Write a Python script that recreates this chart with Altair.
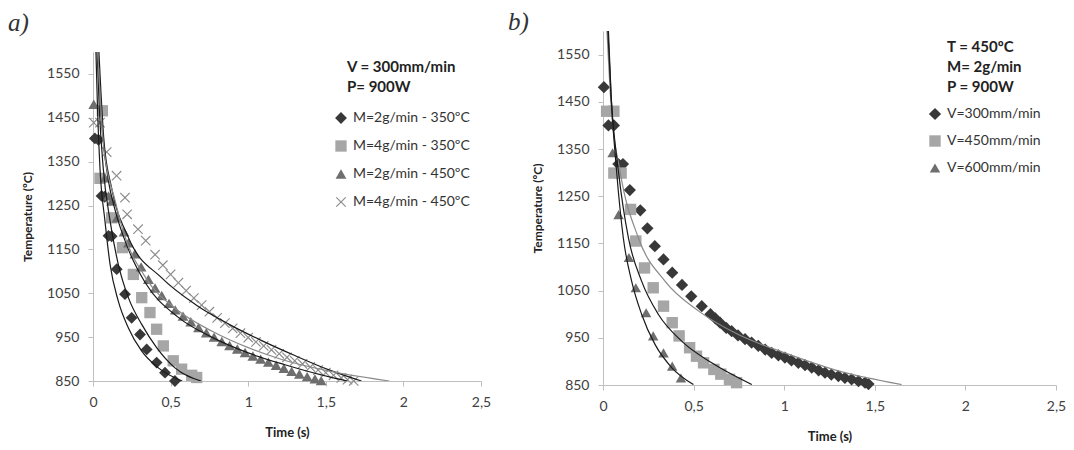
import altair as alt
import pandas as pd

FONT = "Lato"

# ---------------- panel a) ----------------
A_NAMES = ["M=2g/min - 350ºC", "M=4g/min - 350ºC", "M=2g/min - 450ºC", "M=4g/min - 450ºC"]

A_DIAMOND_T = [0.012, 0.035, 0.055, 0.075, 0.10, 0.12, 0.153, 0.206, 0.249, 0.303, 0.346, 0.41, 0.464, 0.528]
A_DIAMOND_Y = [1403, 1400, 1272, 1270, 1181, 1180, 1105, 1048, 994, 956, 922, 892, 869, 850]

A_SQUARE_T = [0.06, 0.045, 0.12, 0.19, 0.26, 0.314, 0.367, 0.41, 0.453, 0.517, 0.571, 0.636, 0.668]
A_SQUARE_Y = [1466, 1312, 1222, 1154, 1093, 1040, 1006, 968, 930, 896, 877, 863, 858]

A_TRI_T = [0.005, 0.077, 0.10, 0.12, 0.155, 0.20, 0.228, 0.27, 0.31, 0.357, 0.40, 0.443, 0.49, 0.53,
           0.58, 0.63, 0.68, 0.73, 0.78, 0.83, 0.88, 0.93, 0.98, 1.03, 1.08, 1.13, 1.18, 1.23,
           1.28, 1.33, 1.38, 1.43, 1.47]
A_TRI_Y = [1481, 1313, 1272, 1260, 1222, 1190, 1165, 1140, 1110, 1082, 1062, 1045, 1027, 1012,
           998, 985, 972, 960, 950, 940, 931, 923, 915, 907, 900, 893, 886, 879,
           872, 866, 860, 855, 851]

A_X_T = [0.005, 0.045, 0.088, 0.152, 0.206, 0.22, 0.29, 0.34, 0.40, 0.45, 0.50, 0.55, 0.60, 0.65,
         0.70, 0.75, 0.80, 0.85, 0.90, 0.95, 1.00, 1.05, 1.10, 1.15, 1.20, 1.25, 1.30, 1.35,
         1.40, 1.45, 1.50, 1.55, 1.60, 1.64, 1.68]
A_X_Y = [1439, 1439, 1372, 1318, 1268, 1230, 1196, 1170, 1138, 1114, 1093, 1074, 1056, 1039,
         1023, 1008, 994, 982, 970, 959, 949, 939, 930, 921, 912, 904, 896, 889,
         882, 875, 869, 863, 857, 853, 850]

# trend curves
A_FIT_NAMES = ["fit1", "fit2", "fit3", "fit4", "fit5"]
A_FIT_T = [
    [0.019, 0.03, 0.045, 0.077, 0.11, 0.163, 0.228, 0.314, 0.421, 0.575],
    [0.027, 0.04, 0.066, 0.11, 0.163, 0.228, 0.314, 0.41, 0.528, 0.696],
    [0.03, 0.06, 0.10, 0.142, 0.228, 0.335, 0.55, 0.765, 1.0, 1.237, 1.47, 1.64],
    [0.038, 0.07, 0.12, 0.228, 0.443, 0.657, 0.883, 1.087, 1.30, 1.516, 1.73],
    [0.03, 0.07, 0.142, 0.20, 0.335, 0.55, 0.765, 1.0, 1.216, 1.516, 1.91],
]
A_FIT_Y = [
    [1600, 1460, 1335, 1215, 1116, 1032, 971, 918, 880, 850],
    [1600, 1475, 1335, 1215, 1116, 1040, 979, 926, 880, 850],
    [1600, 1420, 1305, 1240, 1150, 1075, 995, 950, 914, 887, 864, 850],
    [1600, 1400, 1290, 1177, 1085, 1025, 978, 942, 908, 876, 850],
    [1600, 1380, 1262, 1185, 1088, 1010, 964, 926, 899, 873, 850],
]
A_FIT_COLORS = ["#1a1a1a", "#1a1a1a", "#1a1a1a", "#1a1a1a", "#8a8a8a"]

A_HEADER = ["V = 300mm/min", "P= 900W"]

# ---------------- panel b) ----------------
B_NAMES = ["V=300mm/min", "V=450mm/min", "V=600mm/min"]

B_DIAMOND_T = [0.005, 0.03, 0.06, 0.085, 0.11, 0.148, 0.206, 0.245, 0.286, 0.334, 0.382, 0.436, 0.487,
               0.545, 0.593, 0.62, 0.646, 0.68, 0.71, 0.745, 0.784, 0.82, 0.857, 0.895, 0.931,
               0.968, 1.004, 1.04, 1.078, 1.115, 1.152, 1.19, 1.225, 1.26, 1.299, 1.335, 1.372,
               1.41, 1.446, 1.465]
B_DIAMOND_Y = [1481, 1400, 1400, 1318, 1318, 1263, 1220, 1182, 1144, 1116, 1088, 1062, 1038,
               1017, 1000, 991, 982, 971, 964, 955, 947, 940, 933, 925, 918,
               913, 908, 902, 897, 892, 887, 881, 876, 872, 869, 865, 862,
               858, 855, 852]

B_SQUARE_T = [0.02, 0.06, 0.06, 0.10, 0.152, 0.181, 0.229, 0.277, 0.334, 0.382, 0.42, 0.478, 0.516,
              0.555, 0.612, 0.65, 0.698, 0.737]
B_SQUARE_Y = [1430, 1430, 1299, 1299, 1222, 1155, 1098, 1056, 1017, 982, 954, 929, 911,
              897, 883, 873, 862, 855]

B_TRI_T = [0.053, 0.086, 0.143, 0.181, 0.238, 0.277, 0.334, 0.382, 0.43]
B_TRI_Y = [1342, 1211, 1120, 1056, 1003, 954, 918, 890, 865]

B_FIT_NAMES = ["fit1", "fit2", "fit3"]
B_FIT_T = [
    [0.022, 0.045, 0.094, 0.195, 0.342, 0.526, 0.747, 1.004, 1.299, 1.648],
    [0.027, 0.045, 0.085, 0.14, 0.213, 0.305, 0.434, 0.6, 0.821],
    [0.03, 0.045, 0.075, 0.112, 0.158, 0.213, 0.287, 0.379, 0.499],
]
B_FIT_Y = [
    [1600, 1440, 1303, 1162, 1070, 1007, 957, 918, 880, 851],
    [1600, 1460, 1303, 1162, 1070, 1000, 943, 897, 851],
    [1600, 1462, 1303, 1162, 1070, 1000, 936, 887, 851],
]
B_FIT_COLORS = ["#8a8a8a", "#1a1a1a", "#1a1a1a"]

B_HEADER = ["T = 450ºC", "M= 2g/min", "P = 900W"]

X_TICKS = [0, 0.5, 1, 1.5, 2, 2.5]
Y_TICKS = [850, 950, 1050, 1150, 1250, 1350, 1450, 1550]

X_SHAPE = ("M-1,-0.84L-0.84,-1L0,-0.16L0.84,-1L1,-0.84L0.16,0L1,0.84L0.84,1L0,0.16"
           "L-0.84,1L-1,0.84L-0.16,0Z")


def make_df(names, ts, ys):
    rows = []
    for i, (n, tt, yy) in enumerate(zip(names, ts, ys)):
        for j, (a, b) in enumerate(zip(tt, yy)):
            rows.append({"series": n, "t": a, "T": b, "k": i * 1000 + j})
    return pd.DataFrame(rows)


def x_axis():
    return alt.Axis(values=X_TICKS, labelExpr="replace(format(datum.value, '~g'), '.', ',')",
                    title="Time (s)", grid=False, domainColor="#bfbfbf", tickColor="#bfbfbf",
                    tickSize=5, labelFont=FONT, labelFontSize=14, labelColor="#404040",
                    labelPadding=9, labelFlush=False, labelOverlap=False,
                    titleFont=FONT, titleFontSize=13, titleFontWeight="bold", titleColor="#222",
                    titlePadding=17)


def y_axis():
    return alt.Axis(values=Y_TICKS, format="d", title="Temperature (ºC)", grid=False,
                    domainColor="#bfbfbf", tickColor="#bfbfbf", tickSize=5, labelFont=FONT,
                    labelFontSize=14, labelColor="#404040", labelPadding=9, labelOverlap=False,
                    titleFont=FONT, titleFontSize=12, titleFontWeight="bold", titleColor="#222",
                    titlePadding=12)


def panel(names, ts, ys, colors, shapes, sizes, fit_names, fit_t, fit_y, fit_colors,
          header, hx, hy, lx, ly, row_pad, w, h):
    df = make_df(names, ts, ys)
    fdf = make_df(fit_names, fit_t, fit_y)
    xs = alt.Scale(domain=[0, 2.5], nice=False, zero=False)
    ys_ = alt.Scale(domain=[850, 1600], nice=False, zero=False)
    leg = alt.Legend(title=None, orient="none", legendX=lx, legendY=ly, padding=0,
                     labelFont=FONT, labelFontSize=14, labelColor="#333", symbolSize=70,
                     rowPadding=row_pad, labelOffset=5, symbolStrokeWidth=0)
    pts = alt.Chart(df).mark_point(filled=True, opacity=1).encode(
        x=alt.X("t:Q", scale=xs, axis=x_axis()),
        y=alt.Y("T:Q", scale=ys_, axis=y_axis()),
        color=alt.Color("series:N", scale=alt.Scale(domain=names, range=colors), legend=leg),
        shape=alt.Shape("series:N", scale=alt.Scale(domain=names, range=shapes), legend=leg),
        size=alt.Size("series:N", scale=alt.Scale(domain=names, range=sizes), legend=None),
    )
    fits = alt.Chart(fdf).mark_line(clip=True, strokeWidth=1.2, interpolate="monotone").encode(
        x=alt.X("t:Q", scale=xs, axis=x_axis()),
        y=alt.Y("T:Q", scale=ys_, axis=y_axis()),
        stroke=alt.Stroke("series:N", scale=alt.Scale(domain=fit_names, range=fit_colors), legend=None),
        order=alt.Order("k:Q"),
    )
    hdr = alt.Chart(pd.DataFrame({"k": [0]})).mark_text(
        align="left", baseline="top", font=FONT, fontSize=15, fontWeight="bold",
        color="#222", lineHeight=20
    ).encode(x=alt.value(hx), y=alt.value(hy), text=alt.value(header))
    return alt.layer(pts, fits, hdr).resolve_scale(stroke="independent").properties(width=w, height=h)


def label_view(txt, x, y, w, h):
    return alt.Chart(pd.DataFrame({"k": [0]})).mark_text(
        align="left", baseline="middle", font="Liberation Serif", fontSize=25,
        fontStyle="italic", color="#333"
    ).encode(x=alt.value(x), y=alt.value(y), text=alt.value(txt)).properties(width=w, height=h)


left = panel(A_NAMES, [A_DIAMOND_T, A_SQUARE_T, A_TRI_T, A_X_T], [A_DIAMOND_Y, A_SQUARE_Y, A_TRI_Y, A_X_Y],
             ["#383838", "#a6a6a6", "#6e6e6e", "#8c8c8c"], ["diamond", "square", "triangle-up", X_SHAPE],
             [140, 105, 150, 150], A_FIT_NAMES, A_FIT_T, A_FIT_Y, A_FIT_COLORS,
             A_HEADER, 254, 8, 241, 80, 14, 388, 329)

right = panel(B_NAMES, [B_DIAMOND_T, B_SQUARE_T, B_TRI_T], [B_DIAMOND_Y, B_SQUARE_Y, B_TRI_Y],
              ["#383838", "#a6a6a6", "#6e6e6e"], ["diamond", "square", "triangle-up"],
              [150, 110, 150], B_FIT_NAMES, B_FIT_T, B_FIT_Y, B_FIT_COLORS,
              B_HEADER, 344, 9, 325, 76, 13, 453, 354)

spacer = label_view("a)", -85, -8, 388, 21)
right_full = alt.layer(right, label_view("b)", -95, -9, 453, 354))

left_col = alt.vconcat(spacer, left, spacing=0)

chart = alt.hconcat(left_col, right_full, spacing=17).resolve_scale(
    color="independent", shape="independent", size="independent", stroke="independent",
    x="independent", y="independent"
).properties(padding={"left": 0, "top": 2, "right": 0, "bottom": 0}).configure_view(stroke=None)

chart.save("out.html", embed_options={"renderer": "svg", "actions": False})
